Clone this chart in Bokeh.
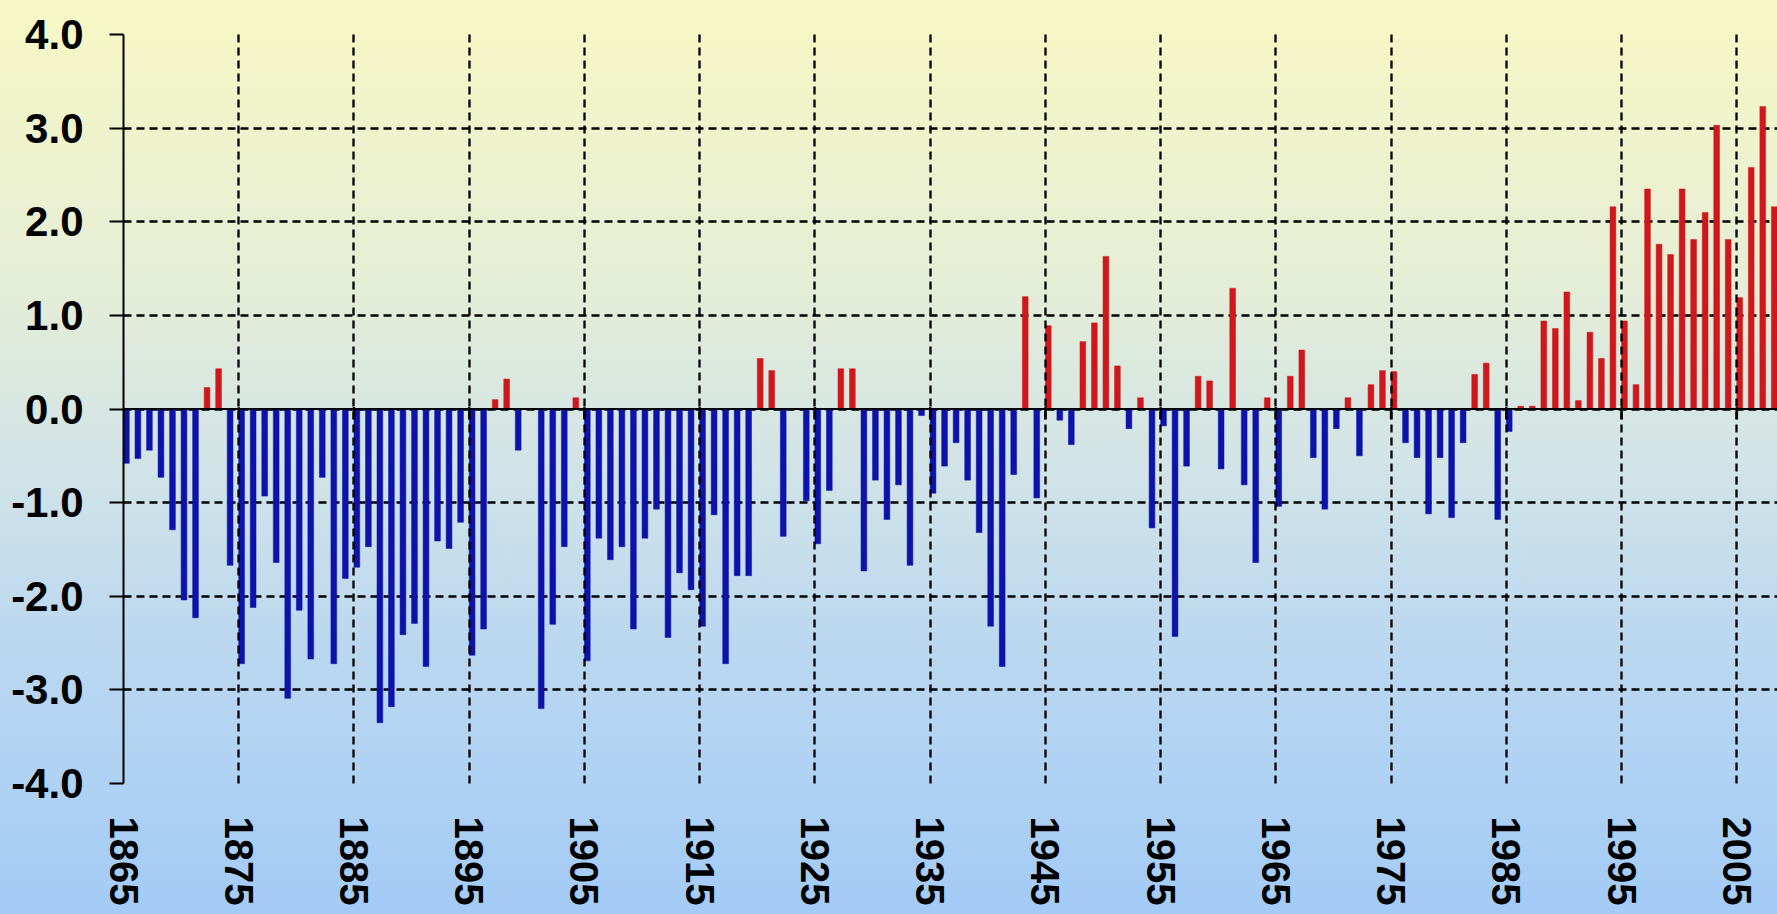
import numpy as np
from bokeh.plotting import figure
from bokeh.models import ColumnDataSource, FixedTicker, NumeralTickFormatter, Span, Range1d
from bokeh.transform import dodge
from bokeh.embed import file_html
from bokeh.resources import INLINE

# ---------------- data ----------------
years = list(range(1865, 2009))
values = [
    -0.58, -0.53, -0.44, -0.73, -1.29, -2.04, -2.23, 0.23, 0.43, -1.67,   # 1865-1874
    -2.72, -2.12, -0.93, -1.64, -3.09, -2.15, -2.67, -0.73, -2.72, -1.81,  # 1875-1884
    -1.69, -1.47, -3.35, -3.18, -2.41, -2.29, -2.75, -1.41, -1.49, -1.21,  # 1885-1894
    -2.63, -2.35, 0.10, 0.32, -0.44, 0.00, -3.20, -2.30, -1.47, 0.12,      # 1895-1904
    -2.69, -1.38, -1.61, -1.47, -2.35, -1.38, -1.07, -2.44, -1.75, -1.93,  # 1905-1914
    -2.32, -1.13, -2.72, -1.78, -1.78, 0.54, 0.41, -1.36, 0.00, -0.98,     # 1915-1924
    -1.44, -0.87, 0.43, 0.43, -1.73, -0.76, -1.18, -0.81, -1.67, -0.07,    # 1925-1934
    -0.90, -0.61, -0.36, -0.76, -1.32, -2.32, -2.75, -0.70, 1.20, -0.95,   # 1935-1944
    0.89, -0.12, -0.38, 0.72, 0.92, 1.63, 0.46, -0.21, 0.12, -1.27,        # 1945-1954
    -0.18, -2.43, -0.61, 0.35, 0.30, -0.64, 1.29, -0.81, -1.64, 0.12,      # 1955-1964
    -1.04, 0.35, 0.63, -0.52, -1.07, -0.21, 0.12, -0.50, 0.26, 0.41,       # 1965-1974
    0.40, -0.36, -0.52, -1.12, -0.52, -1.16, -0.36, 0.37, 0.49, -1.18,     # 1975-1984
    -0.24, 0.03, 0.03, 0.94, 0.86, 1.25, 0.09, 0.82, 0.54, 2.16,           # 1985-1994
    0.94, 0.26, 2.35, 1.76, 1.65, 2.35, 1.81, 2.10, 3.03, 1.81,            # 1995-2004
    1.19, 2.58, 3.23, 2.16,                                                # 2005-2008
]
x_ticks = list(range(1865, 2006, 10))
y_ticks = [-4.0, -3.0, -2.0, -1.0, 0.0, 1.0, 2.0, 3.0, 4.0]

# ---------------- styles ----------------
RED = "#cf181c"
BLUE = "#0c12aa"
FONT = "Liberation Sans"

colors = [RED if v > 0 else BLUE for v in values]
source = ColumnDataSource(dict(year=years, value=values, color=colors))

W, H = 1777, 914
p = figure(width=W, height=H, output_backend="svg", toolbar_location=None,
           x_range=Range1d(1865, 2008.53), y_range=Range1d(-4.0, 4.0),
           min_border_left=123, min_border_right=0, min_border_top=34, min_border_bottom=131)
p.background_fill_alpha = 0
p.border_fill_alpha = 0
p.outline_line_color = None

p.vbar(x=dodge("year", 0.25), top="value", bottom=0, width=0.5,
       fill_color="color", line_color="color", line_width=0.5, source=source)

# zero (category) axis line and its tick marks
p.add_layout(Span(location=0, dimension="width", line_color="black", line_width=2))
p.segment(x0=x_ticks, y0=[0.02] * len(x_ticks), x1=x_ticks, y1=[-0.11] * len(x_ticks),
          line_color="black", line_width=2.5)

# grids
p.xgrid.ticker = FixedTicker(ticks=x_ticks)
p.ygrid.ticker = FixedTicker(ticks=y_ticks)
for g in (p.xgrid, p.ygrid):
    g.grid_line_color = "black"
    g.grid_line_width = 2.3
    g.grid_line_dash = "8 5"
p.xgrid.level = "overlay"

# y axis
ya = p.yaxis[0]
ya.ticker = FixedTicker(ticks=y_ticks)
ya.formatter = NumeralTickFormatter(format="0.0")
ya.axis_line_color = "black"
ya.axis_line_width = 2
ya.major_tick_line_color = "black"
ya.major_tick_line_width = 2
ya.major_tick_out = 14
ya.major_tick_in = 0
ya.minor_tick_line_color = None
ya.major_label_text_font = FONT
ya.major_label_text_font_size = "42px"
ya.major_label_text_font_style = "bold"
ya.major_label_text_color = "black"
ya.major_label_standoff = 26

# x axis (labels at bottom)
xa = p.xaxis[0]
xa.ticker = FixedTicker(ticks=x_ticks)
xa.axis_line_color = None
xa.major_tick_line_color = None
xa.minor_tick_line_color = None
xa.major_label_orientation = "vertical"
xa.major_label_text_font = FONT
xa.major_label_text_font_size = "40px"
xa.major_label_text_font_style = "bold"
xa.major_label_text_color = "black"
xa.major_label_standoff = 27

html = file_html(p, INLINE)
css = ("<style>html{min-height:100%;background:linear-gradient(to bottom,"
       "#f7f8c4 0%,#e6eed6 30%,#d2e4e6 50%,#bcd8f0 70%,#a3cbf6 100%);}"
       "body{background:transparent;}</style>")
html = html.replace("<head>", "<head>" + css, 1)
open("out.html", "w").write(html)
